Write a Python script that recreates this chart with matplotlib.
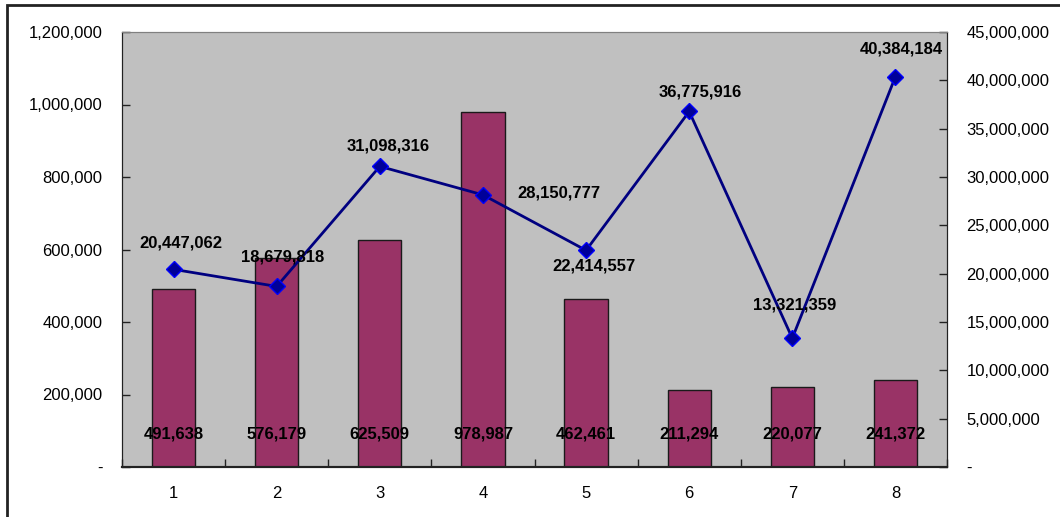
import matplotlib
matplotlib.use("Agg")
import matplotlib.pyplot as plt
from matplotlib.patches import Rectangle
from matplotlib.ticker import FuncFormatter, FixedLocator

plt.rcParams['font.family'] = ['Liberation Sans', 'DejaVu Sans']

categories = ['1', '2', '3', '4', '5', '6', '7', '8']
bar_values = [491638, 576179, 625509, 978987, 462461, 211294, 220077, 241372]
line_values = [20447062, 18679818, 31098316, 28150777, 22414557, 36775916, 13321359, 40384184]

# label offsets in points (positioning only)
line_label_offsets = [(5, 19), (4, 21), (6, 15), (55, 1), (6, -11), (8, 14), (2, 24), (4, 20)]

fig = plt.figure(figsize=(10.6, 5.17), dpi=100)
ax = fig.add_axes([122/1060, 1-467/517, (947-122)/1060, (467-32)/517])
ax2 = ax.twinx()

x = list(range(1, len(categories)+1))
ax.set_facecolor('#C0C0C0')
ax.bar(x, bar_values, width=0.42, color='#993366', edgecolor='#1a1a1a', linewidth=1.0, zorder=2)
ax.set_xlim(0.5, len(categories)+0.5)
ax.set_ylim(0, 1200000)
ax.set_yticks(range(0, 1200001, 200000))
fmt = FuncFormatter(lambda v, p: '-' if v == 0 else f'{int(v):,}')
ax.yaxis.set_major_formatter(fmt)
ax.set_xticks(x)
ax.set_xticklabels(categories)
ax.xaxis.set_minor_locator(FixedLocator([i + 0.5 for i in range(0, len(categories)+1)]))
ax.tick_params(axis='x', which='major', length=0, pad=14, labelsize=12)
ax.tick_params(axis='x', which='minor', direction='in', length=6, width=1, color='#222222')
ax.tick_params(axis='y', direction='in', length=6, width=1, color='#222222', labelsize=12, pad=14)

for xi, v in zip(x, bar_values):
    ax.text(xi, 92000, f'{v:,}', ha='center', va='center', fontsize=12, fontweight='bold', zorder=5)

ax2.plot(x, line_values, color='#000080', linewidth=2, marker='D', markersize=8,
         markerfacecolor='#000099', markeredgecolor='#0000FF', markeredgewidth=1, zorder=4)
ax2.set_ylim(0, 45000000)
ax2.set_yticks(range(0, 45000001, 5000000))
ax2.yaxis.set_major_formatter(fmt)
ax2.tick_params(axis='y', direction='in', length=6, width=1, color='#222222', labelsize=12, pad=14)
for xi, v, off in zip(x, line_values, line_label_offsets):
    ax2.annotate(f'{v:,}', (xi, v), xytext=off, textcoords='offset points',
                 ha='center', va='center', fontsize=12, fontweight='bold', zorder=6)

for a in (ax, ax2):
    a.spines['top'].set_color('#808080')
    a.spines['left'].set_color('#222222')
    a.spines['right'].set_color('#222222')
    a.spines['bottom'].set_color('#222222')
    a.spines['bottom'].set_linewidth(1.5)

ax.set_zorder(ax2.get_zorder() - 1)
ax2.patch.set_visible(False)

fig.patches.append(Rectangle((7/1060, -0.1), 1.2, 1.1 - 5/517, transform=fig.transFigure,
                             fill=False, edgecolor='#222222', linewidth=2))

fig.savefig('out.png', dpi=100)
